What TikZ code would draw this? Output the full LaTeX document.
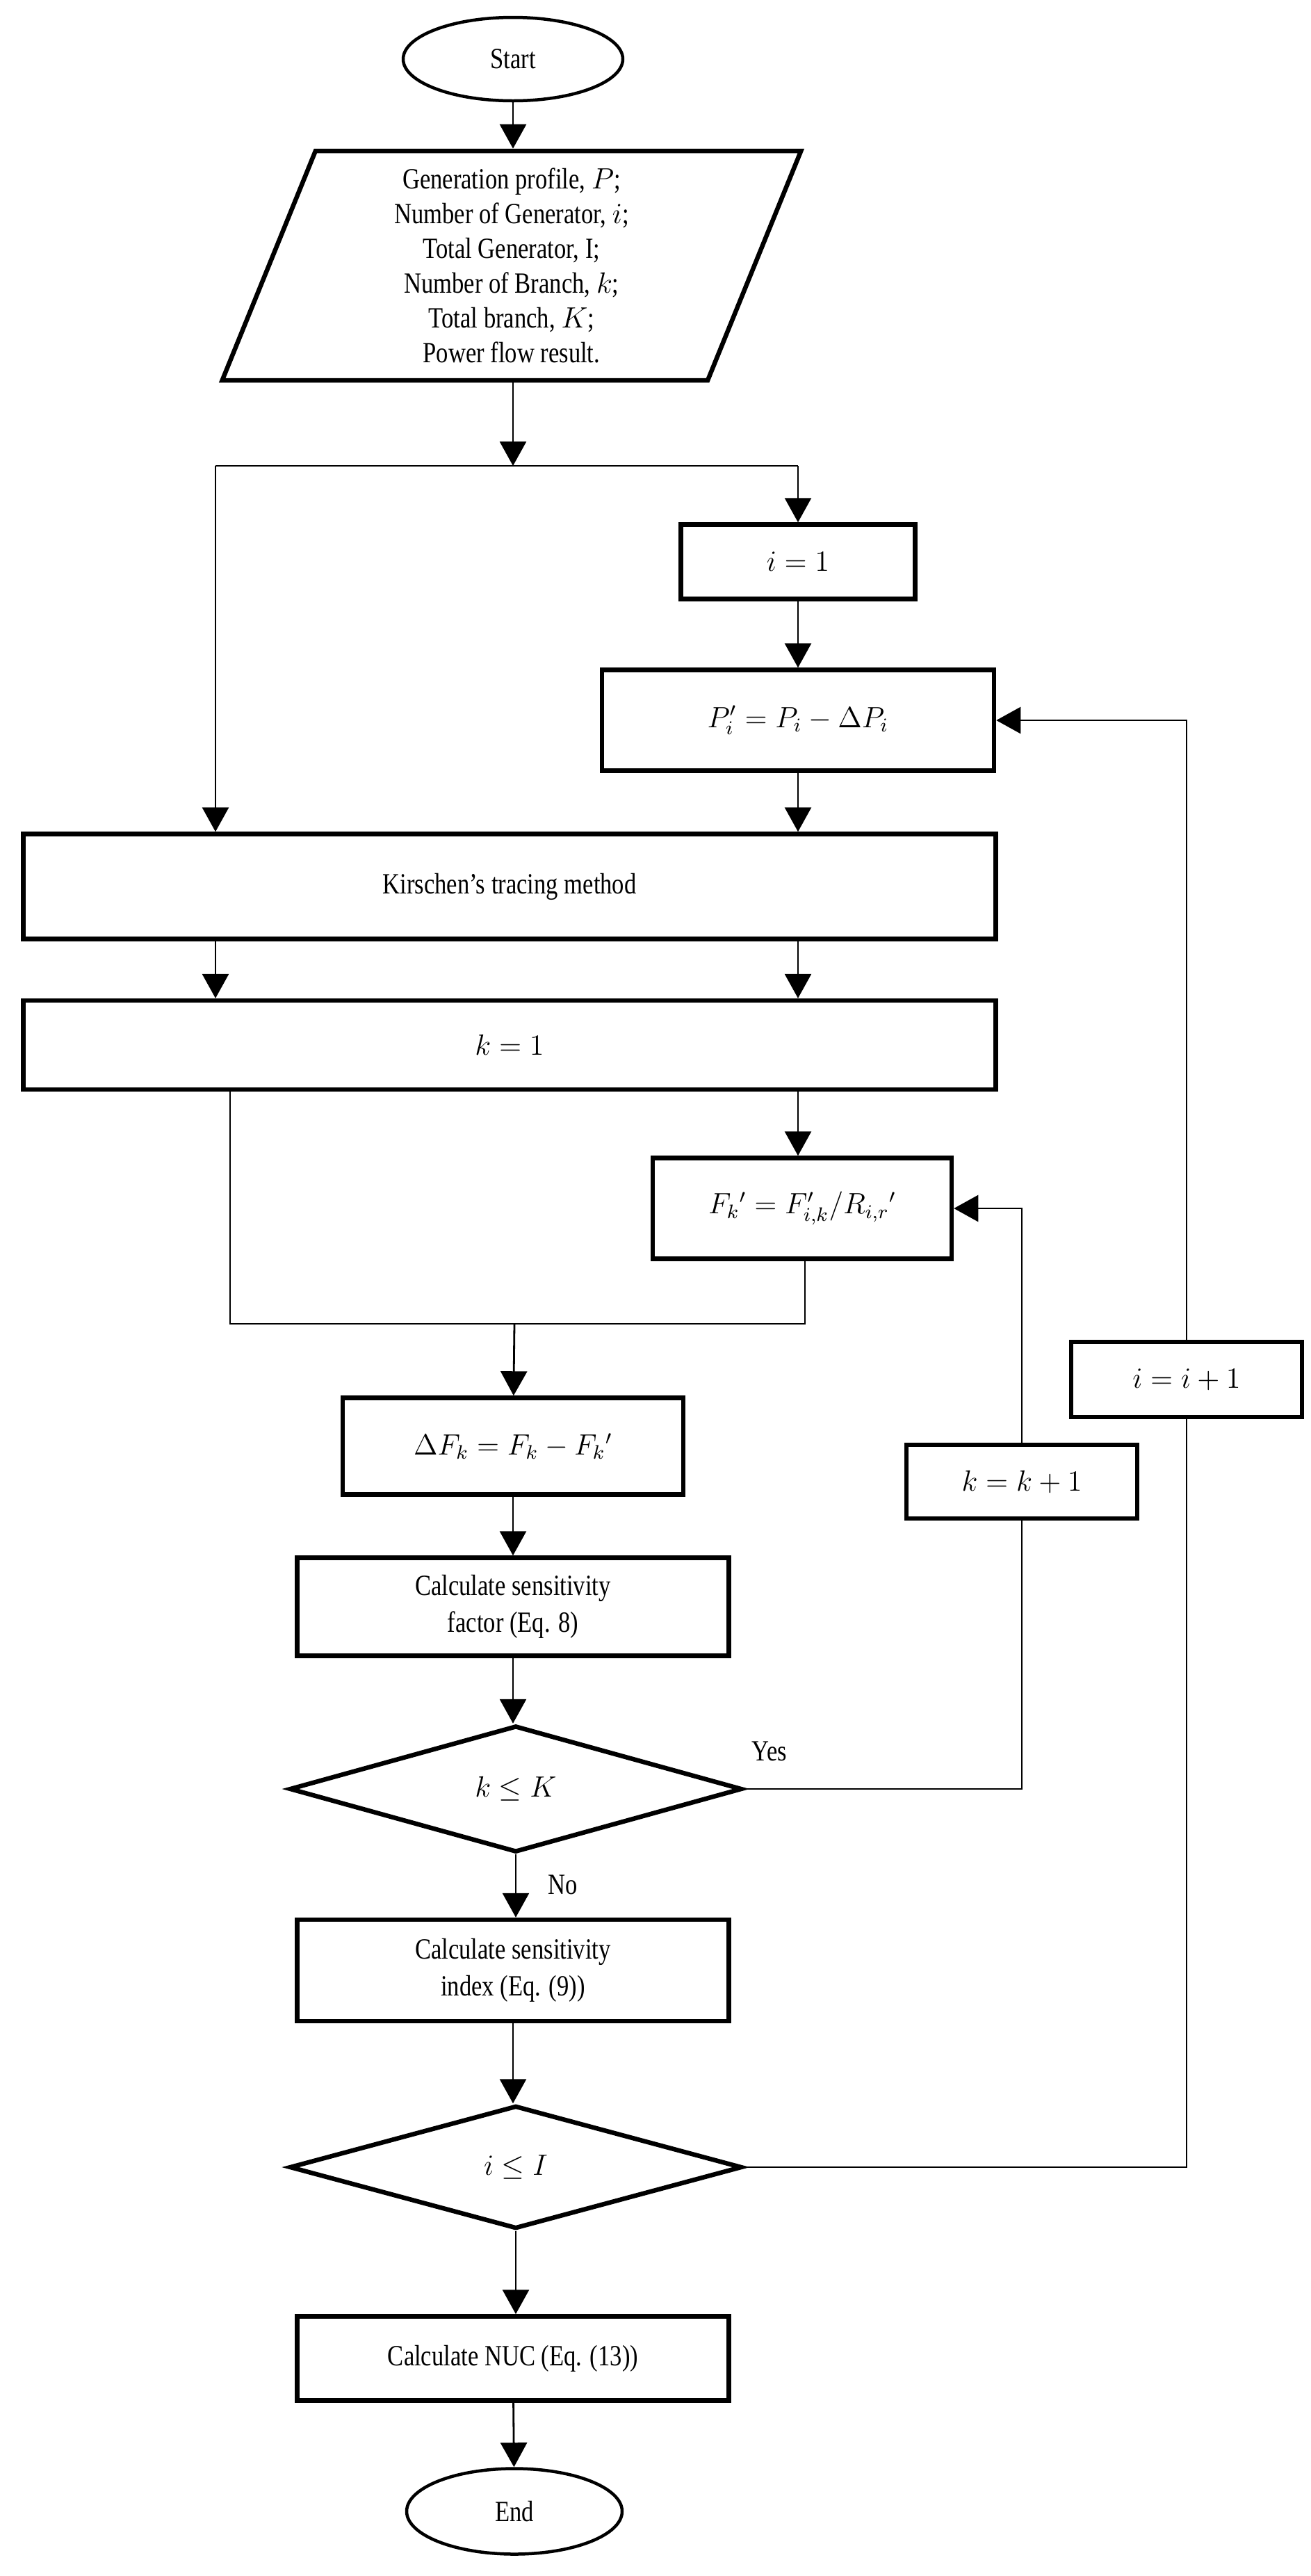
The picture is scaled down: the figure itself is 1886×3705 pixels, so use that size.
\documentclass[tikz,border=0pt]{standalone}
\usepackage{fontspec}
\setmainfont{Liberation Serif}[FakeStretch=0.82]
\usetikzlibrary{shapes.geometric,arrows.meta}
\begin{document}
\begin{tikzpicture}[x=0.1mm,y=-0.1mm,
  box/.style={draw,line width=0.65mm,align=center,inner sep=0pt,font=\fontsize{12}{15}\selectfont},
  term/.style={draw,ellipse,line width=0.45mm,inner sep=0pt,font=\fontsize{12}{15}\selectfont},
  dia/.style={draw,diamond,line width=0.65mm,inner sep=0pt,font=\fontsize{12}{15}\selectfont},
  con/.style={line width=0.28mm},
  arr/.style={con,-{Triangle[length=3.5mm,width=3.8mm]}},
  lab/.style={font=\fontsize{12}{15}\selectfont}]
\useasboundingbox (0,0) rectangle (1886,3705);
\node[term,minimum width=31.6mm,minimum height=12mm] (start) at (738,85) {Start};
\node[box,trapezium,trapezium left angle=74,trapezium right angle=106,trapezium stretches=true,minimum width=83.4mm,minimum height=33mm,font=\fontsize{12}{14.2}\selectfont] (para) at (736,382)
 {Generation profile, $P$;\\Number of Generator, $i$;\\Total Generator, I;\\Number of Branch, $k$;\\Total branch, $K$;\\Power flow result.};
\node[box,minimum width=33.7mm,minimum height=10.7mm] (i1) at (1148,808) {$i=1$};
\node[box,minimum width=56.4mm,minimum height=14.5mm] (P) at (1148,1036) {$P_i'=P_i-\Delta P_i$};
\node[box,minimum width=139.9mm,minimum height=15.1mm] (kir) at (733,1275) {Kirschen’s tracing method};
\node[box,minimum width=139.9mm,minimum height=12.8mm] (k1) at (733,1503) {$k=1$};
\node[box,minimum width=43mm,minimum height=14.5mm] (Fk) at (1154,1738) {$F_k{}'=F_{i,k}'/R_{i,r}{}'$};
\node[box,minimum width=49mm,minimum height=13.9mm] (dF) at (738,2080) {$\Delta F_k=F_k-F_k{}'$};
\node[box,minimum width=62.1mm,minimum height=14.1mm] (fac) at (738,2311) {Calculate sensitivity\\factor (Eq. 8)};
\node[dia,minimum width=65.1mm,minimum height=18.2mm] (dk) at (742,2573) {$k\le K$};
\node[box,minimum width=33.2mm,minimum height=10.6mm] (kk) at (1470,2131) {$k=k+1$};
\node[box,minimum width=62.1mm,minimum height=14.6mm] (idx) at (738,2834) {Calculate sensitivity\\index (Eq. (9))};
\node[dia,minimum width=65.1mm,minimum height=17.7mm] (di) at (742,3117) {$i\le I$};
\node[box,minimum width=33.2mm,minimum height=10.8mm] (ii) at (1707,1984) {$i=i+1$};
\node[box,minimum width=62.1mm,minimum height=12.1mm] (nuc) at (738,3392) {Calculate NUC (Eq. (13))};
\node[term,minimum width=31mm,minimum height=12.3mm] (end) at (740,3612) {End};
\node[lab] (yes) at (1107,2519) {Yes};
\node[lab] (no) at (810,2711) {No};
\coordinate (j) at (738,670);
\coordinate (jl) at (310,670);
\coordinate (jr) at (1148,670);
\coordinate (m) at (740,1904);
\coordinate (ml) at (331,1904);
\coordinate (mr) at (1158,1904);
\draw[arr] (start) -- (start.south |- para.north);
\draw[arr] (para.south -| j) -- (j);
\draw[con] (jl) -- (jr);
\draw[arr] (jl) -- (jl |- kir.north);
\draw[arr] (jr) -- (i1);
\draw[arr] (i1) -- (P);
\draw[arr] (P) -- (P.south |- kir.north);
\draw[arr] (kir.south -| jl) -- (jl |- k1.north);
\draw[arr] (kir.south -| jr) -- (jr |- k1.north);
\draw[arr] (k1.south -| jr) -- (jr |- Fk.north);
\draw[con] (k1.south -| ml) -- (ml) -- (mr) -- (mr |- Fk.south);
\draw[arr] (m) -- (dF);
\draw[arr] (dF) -- (fac);
\draw[arr] (fac) -- (fac.south |- dk.north);
\draw[arr] (dk) -- (dk.south |- idx.north);
\draw[arr] (idx) -- (idx.south |- di.north);
\draw[arr] (di) -- (di.south |- nuc.north);
\draw[arr] (nuc) -- (end);
\draw[con] (dk.east) -| (kk);
\draw[arr] (kk) |- (Fk.east);
\draw[con] (di.east) -| (ii);
\draw[arr] (ii) |- (P.east);
\end{tikzpicture}
\end{document}
